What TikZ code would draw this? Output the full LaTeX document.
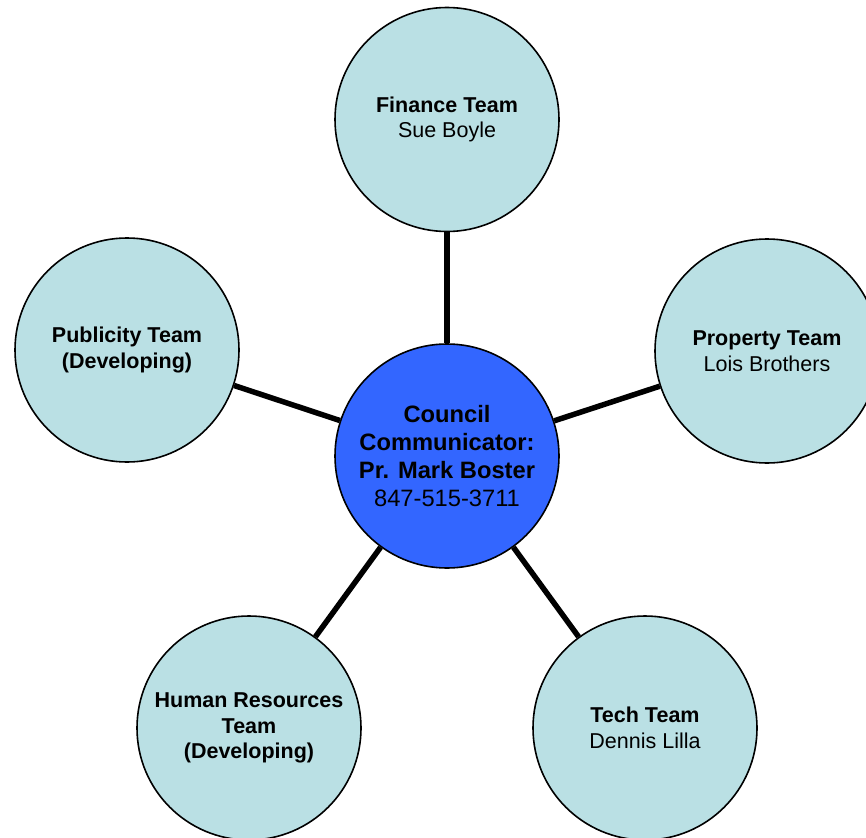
\documentclass[tikz,border=0pt]{standalone}
\usepackage{fontspec}
\setmainfont{Liberation Sans}
\definecolor{teamfill}{RGB}{186,224,228}
\definecolor{hubfill}{RGB}{51,102,255}
\tikzset{
  team/.style={circle, draw=black, line width=1.6pt, fill=teamfill, minimum size=224pt, inner sep=0pt, align=center, font=\fontsize{21.5}{25.5}\selectfont},
  hub/.style={circle, draw=black, line width=1.6pt, fill=hubfill, minimum size=224pt, inner sep=0pt, align=center, font=\fontsize{23.7}{28.2}\selectfont},
  conn/.style={line width=5.5pt, black}
}
\begin{document}
\begin{tikzpicture}[x=1pt,y=-1pt]
\useasboundingbox (0,0) rectangle (866,837);
\clip (0,0) rectangle (866,837);
\node[hub] (c) at (447,456) {\textbf{Council}\\\textbf{Communicator:}\\\textbf{Pr. Mark Boster}\\847-515-3711};
\node[team] (fin) at (447,119.5) {\textbf{Finance Team}\\Sue Boyle};
\node[team] (pub) at (127,350) {\textbf{Publicity Team}\\\textbf{(Developing)}};
\node[team] (prop) at (767,351) {\textbf{Property Team}\\Lois Brothers};
\node[team] (hr) at (249,728) {\textbf{Human Resources}\\\textbf{Team}\\\textbf{(Developing)}};
\node[team] (tech) at (645,728) {\textbf{Tech Team}\\Dennis Lilla};
\draw[conn] (c) -- (fin);
\draw[conn] (c) -- (pub);
\draw[conn] (c) -- (prop);
\draw[conn] (c) -- (hr);
\draw[conn] (c) -- (tech);
\end{tikzpicture}
\end{document}
